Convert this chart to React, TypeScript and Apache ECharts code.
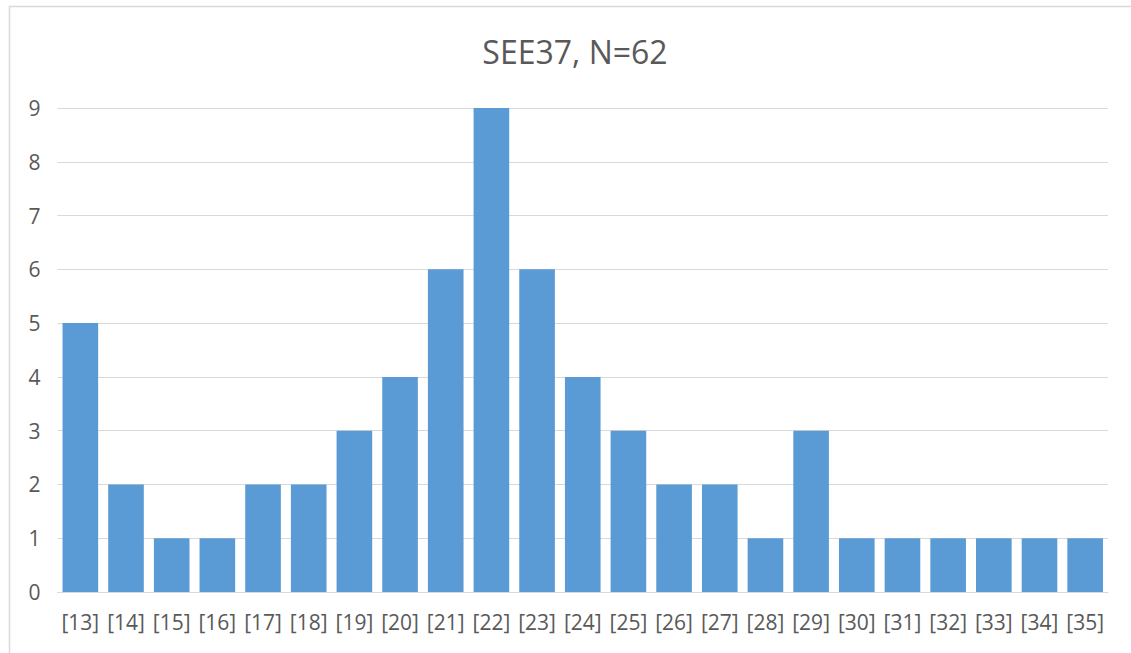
import React, { useEffect, useRef } from "react";
import * as echarts from "echarts";

const categories = ["[13]", "[14]", "[15]", "[16]", "[17]", "[18]", "[19]", "[20]", "[21]", "[22]", "[23]", "[24]", "[25]", "[26]", "[27]", "[28]", "[29]", "[30]", "[31]", "[32]", "[33]", "[34]", "[35]"];
const counts = [5, 2, 1, 1, 2, 2, 3, 4, 6, 9, 6, 4, 3, 2, 2, 1, 3, 1, 1, 1, 1, 1, 1];
const titleText = "SEE37, N=62";

const FONT = "'Open Sans', 'Noto Sans', sans-serif";
const TEXT = "#595959";
const GRID = "#D9D9D9";

export default function App() {
  const ref = useRef<HTMLDivElement>(null);
  useEffect(() => {
    if (!ref.current) return;
    const chart = echarts.init(ref.current, null, { renderer: "svg" });
    chart.setOption({
      animation: false,
      backgroundColor: "#ffffff",
      textStyle: { fontFamily: FONT },
      graphic: [
        {
          type: "rect",
          shape: { x: 9.5, y: 6.5, width: 1140, height: 660 },
          style: { fill: "none", stroke: GRID, lineWidth: 1.5 },
          silent: true,
        },
        {
          type: "text",
          x: 575,
          y: 51,
          style: {
            text: titleText,
            fill: TEXT,
            font: `32px ${FONT}`,
            textAlign: "center",
            textVerticalAlign: "middle",
          },
        },
      ],
      grid: { left: 57.5, right: 23, top: 108, bottom: 61, containLabel: false },
      xAxis: {
        type: "category",
        data: categories,
        axisLine: { show: true, lineStyle: { color: GRID, width: 1 } },
        axisTick: { show: false },
        axisLabel: { color: TEXT, fontSize: 21, fontFamily: FONT, margin: 19, interval: 0 },
      },
      yAxis: {
        type: "value",
        min: 0,
        max: 9,
        interval: 1,
        axisLine: { show: false },
        axisTick: { show: false },
        splitLine: { show: true, lineStyle: { color: GRID, width: 1 } },
        axisLabel: { color: TEXT, fontSize: 21, fontFamily: FONT, margin: 17 },
      },
      series: [
        {
          type: "bar",
          data: counts,
          barCategoryGap: "22%",
          itemStyle: { color: "#5B9BD5" },
        },
      ],
    });
    return () => chart.dispose();
  }, []);
  return (
    <div
      ref={ref}
      style={{ position: "absolute", left: 0, top: 0, width: 1131, height: 653 }}
    />
  );
}
